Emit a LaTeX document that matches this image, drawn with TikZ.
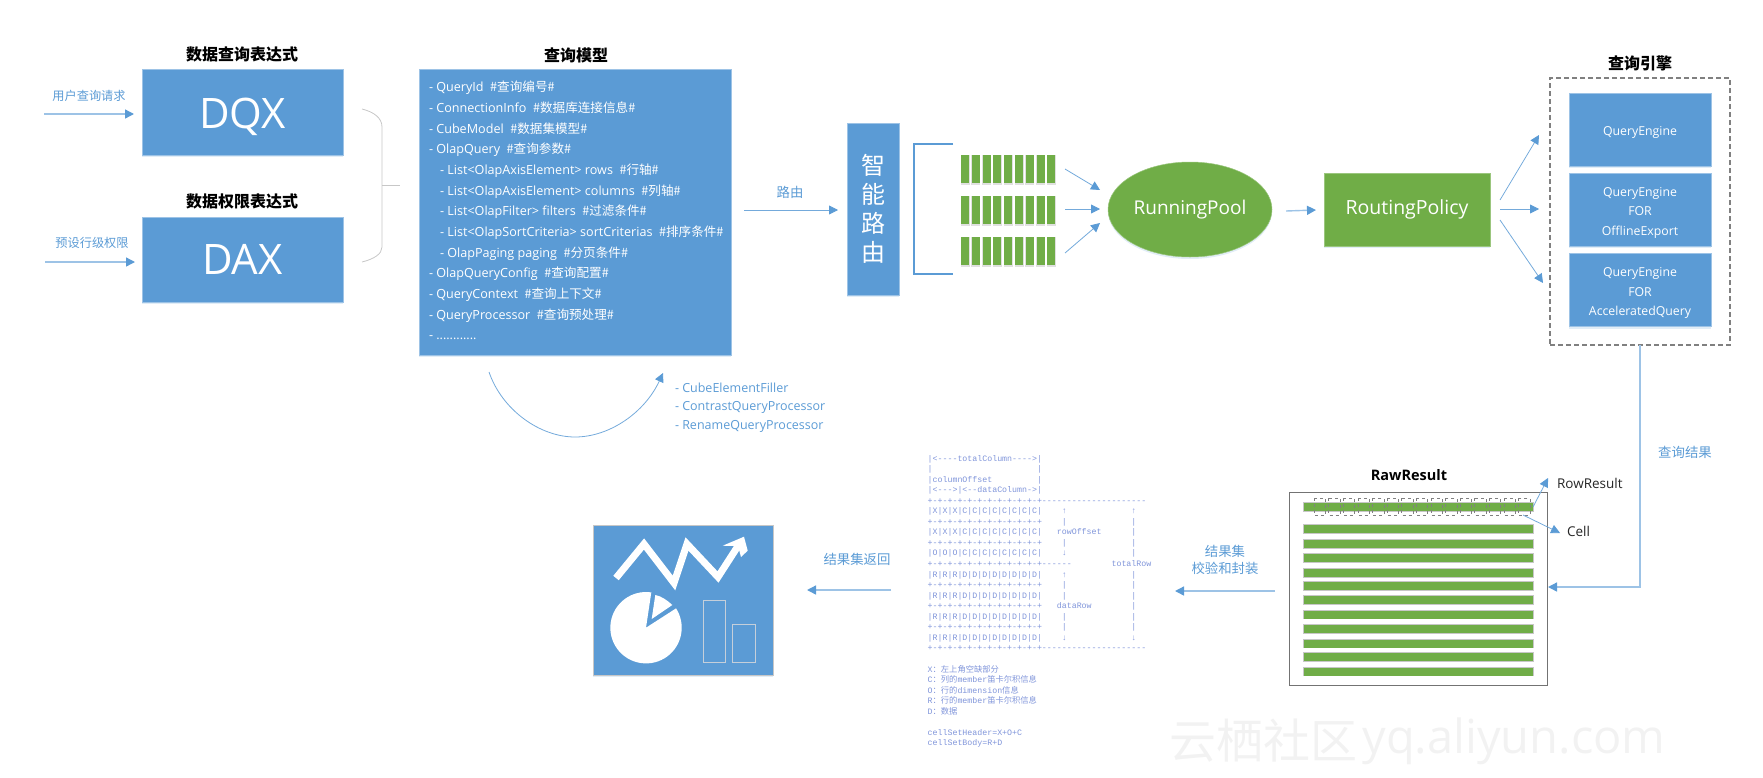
\documentclass[tikz,border=0pt]{standalone}
\usepackage{fontspec}
\setmainfont{Open Sans}
\newfontfamily\cjkf{Noto Sans CJK SC}
\newfontfamily\tabfont{Liberation Mono}
\newcommand\zh[1]{{\cjkf #1}}
\newlength\cw \setlength\cw{4.97pt}
\newcommand\sk[1]{\hspace*{#1\cw}}
\newcommand\dn{\rule{0pt}{15.5pt}}
\newcommand\seprow{+-+-+-+-+-+-+-+-+-+-+-+}
\newcommand\xrow{|X|X|X|C|C|C|C|C|C|C|C|}
\newcommand\orow{|O|O|O|C|C|C|C|C|C|C|C|}
\newcommand\rrow{|R|R|R|D|D|D|D|D|D|D|D|}
\usetikzlibrary{arrows.meta,shadows,shapes.geometric}
\definecolor{bl}{HTML}{5B9BD5}
\definecolor{lb}{HTML}{9DC3E6}
\definecolor{gn}{HTML}{70AD47}
\definecolor{tb}{HTML}{8095DA}
\definecolor{barline}{HTML}{C5CFDA}
\tikzset{
  x=1pt,y=-1pt,
  every node/.style={inner sep=0pt,outer sep=0pt},
  sh/.style={drop shadow={shadow xshift=0pt,shadow yshift=-2pt,opacity=.18,fill=bl}},
  bluebox/.style={fill=bl,draw=lb,line width=.5pt,text=white,sh,align=center},
  greenbox/.style={fill=gn,draw=gn!70!white,line width=.5pt,text=white,sh,align=center},
  ttl/.style={font=\fontsize{16}{18}\selectfont\cjkf\bfseries,text=black},
  lbl/.style={font=\fontsize{12.2}{16.5}\selectfont\cjkf,text=bl,align=center},
  lblb/.style={font=\fontsize{13.4}{17.5}\selectfont\cjkf,text=bl,align=center},
  eng/.style={bluebox,minimum width=142pt,minimum height=73pt,font=\fontsize{12.3}{19.3}\selectfont},
  thin arrow/.style={draw=bl!85!white,line width=.8pt,-{Triangle[length=9pt,width=9pt,fill=bl,color=bl]}},
  pale arrow/.style={draw=lb,line width=1.4pt,-{Triangle[length=9pt,width=9pt,fill=bl,color=bl]}},
}
\begin{document}
\begin{tikzpicture}
\useasboundingbox (0,0) rectangle (1763,777);
% watermark
\node[font=\fontsize{47}{50}\selectfont\cjkf,text=black!5] (wm1) at (1263,741) {云栖社区};
\node[font=\fontsize{47}{50}\selectfont,text=black!5] (wm2) at (1514,741) {yq.aliyun.com};
% left
\node[ttl] (t1) at (242,54) {数据查询表达式};
\node[ttl] (t2) at (242,201) {数据权限表达式};
\node[bluebox,minimum width=201pt,minimum height=86pt,font=\fontsize{42}{44}\selectfont] (dqx) at (242.5,112) {\rule{0pt}{40pt}DQX};
\node[bluebox,minimum width=201pt,minimum height=85pt,font=\fontsize{42}{44}\selectfont] (dax) at (242.5,259.5) {DAX};
\node[lbl] (l1) at (89,96) {用户查询请求};
\node[lbl] (l2) at (92,243) {预设行级权限};
\coordinate (a1) at (44,114); \coordinate (a1e) at (134,114);
\coordinate (a2) at (45,262); \coordinate (a2e) at (135,262);
\draw[pale arrow] (a1) -- (a1e);
\draw[pale arrow] (a2) -- (a2e);
\draw[black!22,line width=.8pt] (362,109) .. controls (374,112) and (382,118) .. (382,127) -- (382,247) .. controls (382,254) and (374,259) .. (362,262);
\draw[black!22,line width=.8pt] (382,185) -- (400,185);
% query model
\node[ttl] (t3) at (576,55) {查询模型};
\node[bluebox,minimum width=312pt,minimum height=286pt] (model) at (575,212) {};
\node[anchor=north west,text=white,align=left,font=\fontsize{12.6}{20.67}\selectfont] (modeltext) at (429,81) {%
- QueryId\ \ \zh{\#查询编号\#}\\
- ConnectionInfo\ \ \zh{\#数据库连接信息\#}\\
- CubeModel\ \ \zh{\#数据集模型\#}\\
- OlapQuery\ \ \zh{\#查询参数\#}\\
\hspace*{11pt}- List<OlapAxisElement> rows\ \ \zh{\#行轴\#}\\
\hspace*{11pt}- List<OlapAxisElement> columns\ \ \zh{\#列轴\#}\\
\hspace*{11pt}- List<OlapFilter> filters\ \ \zh{\#过滤条件\#}\\
\hspace*{11pt}- List<OlapSortCriteria> sortCriterias\ \ \zh{\#排序条件\#}\\
\hspace*{11pt}- OlapPaging paging\ \ \zh{\#分页条件\#}\\
- OlapQueryConfig\ \ \zh{\#查询配置\#}\\
- QueryContext\ \ \zh{\#查询上下文\#}\\
- QueryProcessor\ \ \zh{\#查询预处理\#}\\
- ............};
\coordinate (c1) at (489,372); \coordinate (c2) at (663,373);
\draw[thin arrow] (c1) .. controls (502,410) and (540,437) .. (575,437) .. controls (610,437) and (645,412) .. (c2);
\node[anchor=north west,text=bl,align=left,font=\fontsize{12.5}{18.6}\selectfont] (proc) at (675,382.5) {%
- CubeElementFiller\\
- ContrastQueryProcessor\\
- RenameQueryProcessor};
% routing
\coordinate (r1) at (744,210); \coordinate (r2) at (838,210);
\draw[thin arrow] (r1) -- (r2);
\node[lblb] (l3) at (790,192) {路由};
\node[bluebox,minimum width=52pt,minimum height=172pt,font=\fontsize{24}{29}\selectfont\cjkf] (smart) at (873,209) {智\\能\\路\\由};
\draw[bl,line width=2.2pt] (953,144) -- (914,144) -- (914,274) -- (953,274);
\foreach \y in {169,210,251}{
  \foreach \i in {0,...,8}{
    \fill[black!12] (961+\i*10.8-.5,\y-14.5) rectangle ++(9,30);
    \fill[gn] (961+\i*10.8,\y-14) rectangle ++(8,28);
  }
}
\coordinate (p1) at (1065,169); \coordinate (p1e) at (1100,190);
\coordinate (p2) at (1065,209); \coordinate (p2e) at (1100,209);
\coordinate (p3) at (1065,253); \coordinate (p3e) at (1100,223);
\draw[thin arrow] (p1) -- (p1e);
\draw[thin arrow] (p2) -- (p2e);
\draw[thin arrow] (p3) -- (p3e);
\node[ellipse,greenbox,minimum width=164pt,minimum height=95pt,font=\fontsize{19}{22}\selectfont] (pool) at (1190,209.5) {RunningPool};
\node[greenbox,minimum width=166pt,minimum height=73pt,font=\fontsize{19.5}{22}\selectfont] (policy) at (1407,209.5) {RoutingPolicy};
\coordinate (q1) at (1286,211); \coordinate (q1e) at (1316,210);
\draw[pale arrow] (q1) -- (q1e);
\coordinate (s0) at (1500,200); \coordinate (s0e) at (1539,135);
\coordinate (s1) at (1500,209); \coordinate (s1e) at (1539,209);
\coordinate (s2) at (1500,220); \coordinate (s2e) at (1543,283);
\draw[thin arrow] (s0) -- (s0e);
\draw[thin arrow] (s1) -- (s1e);
\draw[thin arrow] (s2) -- (s2e);
% engines
\node[ttl] (t4) at (1640,63) {查询引擎};
\node[draw=black!50,line width=1.1pt,dash pattern=on 5pt off 3pt,minimum width=180pt,minimum height=267pt] (engine) at (1640,211.5) {};
\node[eng] (e1) at (1640,129.5) {\dn QueryEngine};
\node[eng] (e2) at (1640,209.5) {\dn QueryEngine\\FOR\\OfflineExport};
\node[eng] (e3) at (1640,290) {\dn QueryEngine\\FOR\\AcceleratedQuery};
\coordinate (corner) at (1640,587); \coordinate (backin) at (1548,587);
\draw[pale arrow] (engine.south) -- (corner) -- (backin);
\node[lblb] (l4) at (1685,452) {查询结果};
% raw result
\node[font=\fontsize{14.5}{16}\selectfont\bfseries] (t5) at (1409,475) {RawResult};
\node[draw=black!55,line width=1pt,fill=white,minimum width=258pt,minimum height=193pt] (raw) at (1418.3,588.5) {};
\foreach \y in {507,529,544,558,573,586,600,614.5,629,643.5,657,671.5}{
  \fill[black!22] (1302.5,\y-4.8) rectangle (1533.5,\y+4.8);
  \fill[gn] (1303.5,\y-4) rectangle (1532.5,\y+4);
}
\foreach \i in {0,...,14}{
  \draw[black!50,line width=.6pt,dash pattern=on 3pt off 3pt] (1314+\i*14.6,498) rectangle ++(11.5,17);
}
\coordinate (g1) at (1533,507); \coordinate (g1e) at (1548,478);
\coordinate (g2) at (1523,515); \coordinate (g2e) at (1560,533);
\draw[thin arrow] (g1) -- (g1e);
\draw[thin arrow] (g2) -- (g2e);
\node[anchor=west,font=\fontsize{13.5}{16}\selectfont,text=black!85] (rr) at (1557,483) {RowResult};
\node[anchor=west,font=\fontsize{13.5}{16}\selectfont,text=black!85] (cell) at (1567,531) {Cell};
\coordinate (h1) at (1275,591); \coordinate (h1e) at (1175,591);
\draw[pale arrow] (h1) -- (h1e);
\node[lblb] (l5) at (1225,560) {结果集\\校验和封装};
% table
\node[anchor=north west,text=tb,align=left,font=\fontsize{8.28}{10.55}\selectfont\tabfont] (table) at (927.7,455) {%
|<----totalColumn---->|\\
|\sk{21}|\\
|columnOffset\sk{9}|\\
|<--->|<--dataColumn->|\\
\seprow---------------------\\
\xrow\sk{4}↑\sk{13}↑\\
\seprow\sk{4}|\sk{13}|\\
\xrow\sk{3}rowOffset\sk{6}|\\
\seprow\sk{4}|\sk{13}|\\
\orow\sk{4}↓\sk{13}|\\
\seprow------\sk{8}totalRow\\
\rrow\sk{4}↑\sk{13}|\\
\seprow\sk{4}|\sk{13}|\\
\rrow\sk{4}|\sk{13}|\\
\seprow\sk{3}dataRow\sk{8}|\\
\rrow\sk{4}|\sk{13}|\\
\seprow\sk{4}|\sk{13}|\\
\rrow\sk{4}↓\sk{13}↓\\
\seprow---------------------\\
\mbox{}\\
X\zh{：左上角空缺部分}\\
C\zh{：列的}member\zh{笛卡尔积信息}\\
O\zh{：行的}dimension\zh{信息}\\
R\zh{：行的}member\zh{笛卡尔积信息}\\
D\zh{：数据}\\
\mbox{}\\
cellSetHeader=X+O+C\\
cellSetBody=R+D};
\coordinate (i1) at (891,590); \coordinate (i1e) at (807,590);
\draw[pale arrow] (i1) -- (i1e);
\node[lblb] (l6) at (857,559) {结果集返回};
% chart
\node[bluebox,draw=black!22,line width=.8pt,minimum width=180pt,minimum height=150pt] (chart) at (683,600) {};
\draw[white,line width=7pt,miter limit=10] (616,578) -- (644,544) -- (674,583) -- (687,544) -- (718,577) -- (738,546);
\fill[white] (722.7,545.7) -- (744,536.7) -- (747.7,550.7) -- (741,557) -- (738,546) -- cycle;
\fill[white] (646,627.7) -- (651.3,592.4) arc[start angle=81.5,end angle=392.8,radius=35.7pt] -- cycle;
\fill[white] (651.7,619) -- (655.3,595) .. controls (661,596) and (667,600) .. (672.3,605) -- cycle;
\draw[barline,line width=.8pt] (703.3,600) rectangle (725.7,662.3);
\draw[barline,line width=.8pt] (732.7,624.7) rectangle (755.3,662.3);
\end{tikzpicture}
\end{document}
